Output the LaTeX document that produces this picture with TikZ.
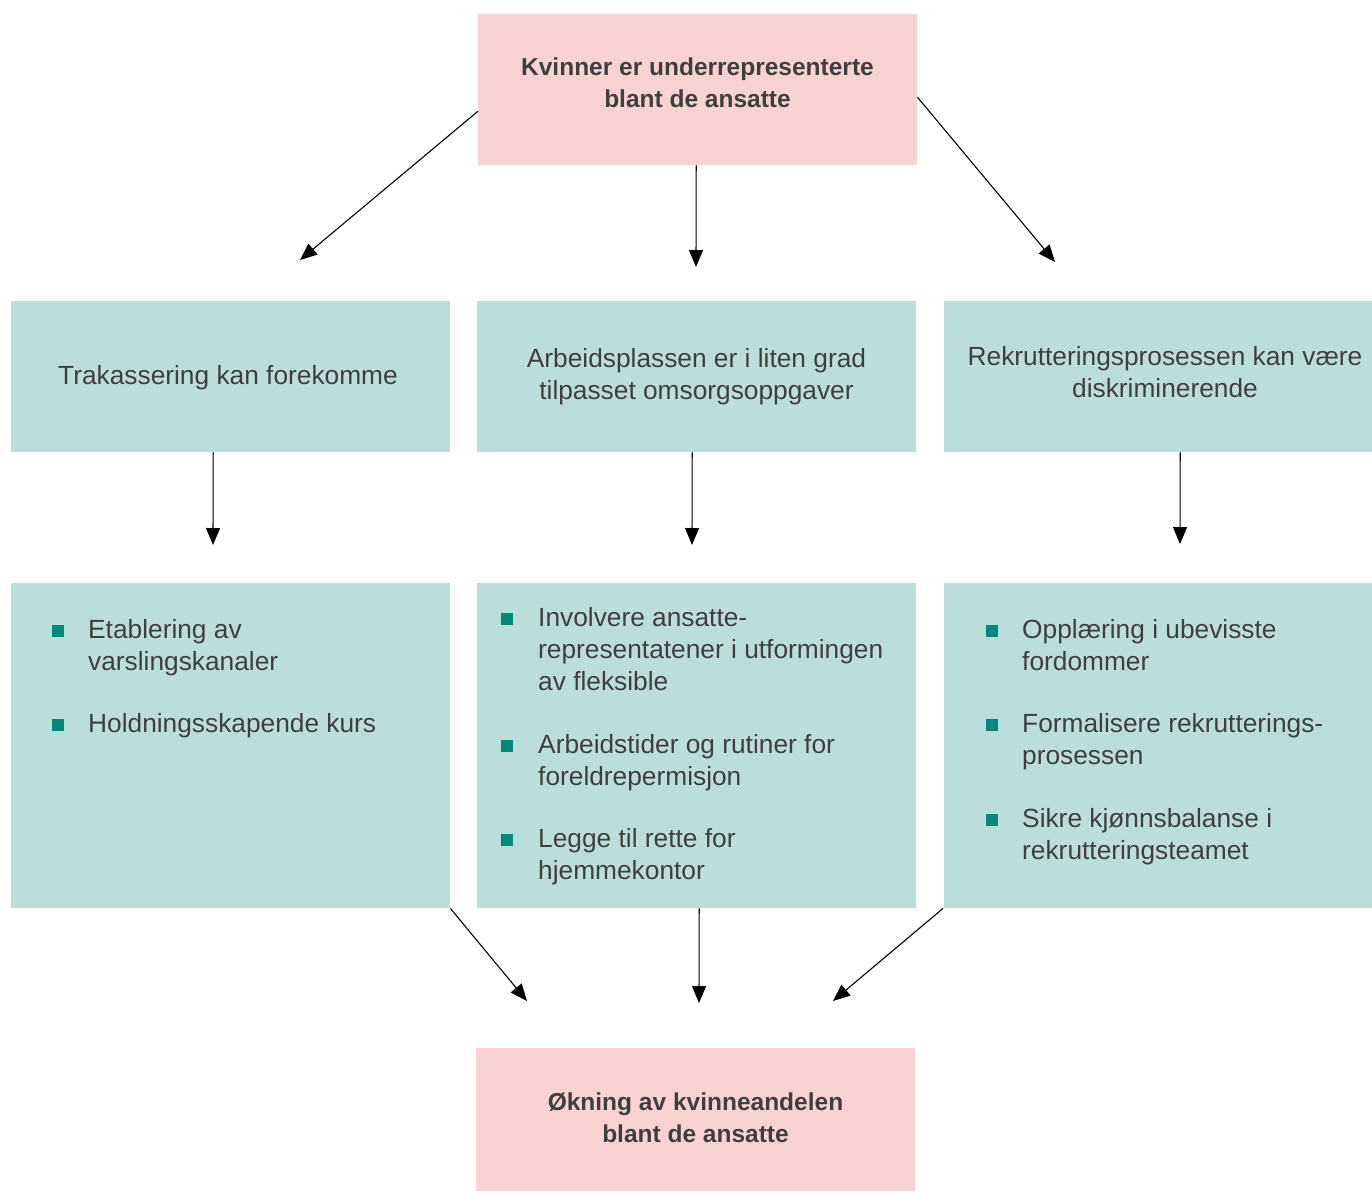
\documentclass[tikz,border=0pt]{standalone}
\usepackage{fontspec}
\setmainfont{Liberation Sans}
\usetikzlibrary{arrows.meta,calc}
\definecolor{pinkbox}{HTML}{F9D3D1}
\definecolor{tealbox}{HTML}{BCDEDB}
\definecolor{bul}{HTML}{00897B}
\definecolor{tgray}{HTML}{3F3F3F}
\newcommand\myfl{\rule{0pt}{24pt}}
\begin{document}
\begin{tikzpicture}[x=1pt,y=-1pt,
  pinkb/.style={fill=pinkbox,draw=none,minimum width=439pt,inner sep=0,anchor=north west},
  tealb/.style={fill=tealbox,draw=none,minimum width=439pt,inner sep=0,anchor=north west},
  ttxt/.style={font=\fontsize{26.3}{32}\selectfont,text=tgray,inner sep=0,align=left,anchor=north west},
  ctxt/.style={font=\fontsize{26.3}{32}\selectfont,text=tgray,inner sep=0,align=center,anchor=north},
  btxt/.style={font=\bfseries\fontsize{24.5}{32}\selectfont,text=tgray,inner sep=0,align=center,anchor=north},
  bsq/.style={fill=bul,draw=none,minimum size=12pt,inner sep=0},
  arr/.style={draw=black,line width=1.1pt,-{Triangle[length=17pt,width=14pt]}}]
\useasboundingbox (0,0) rectangle (1372,1192);
% boxes
\node[pinkb,minimum height=151pt] (top) at (478,14) {};
\node[tealb,minimum height=151pt] (b1) at (11,301) {};
\node[tealb,minimum height=151pt] (b2) at (477,301) {};
\node[tealb,minimum height=151pt] (b3) at (944,301) {};
\node[tealb,minimum height=325pt] (c1) at (11,583) {};
\node[tealb,minimum height=325pt] (c2) at (477,583) {};
\node[tealb,minimum height=325pt] (c3) at (944,583) {};
\node[pinkb,minimum height=143pt] (bot) at (476,1048) {};
% box titles
\node[btxt] (topT) at (697.5,75-24) {\myfl Kvinner er underrepresenterte\\blant de ansatte};
\node[btxt] (botT) at (695.5,1110-24) {\myfl Økning av kvinneandelen\\blant de ansatte};
\node[ctxt] (b1T) at (228,384-24) {\myfl Trakassering kan forekomme};
\node[ctxt] (b2T) at (696.5,367-24) {\myfl Arbeidsplassen er i liten grad\\tilpasset omsorgsoppgaver};
\node[ctxt] (b3T) at (1165,365-24) {\myfl Rekrutteringsprosessen kan være\\diskriminerende};
% bullets left
\node[bsq] (l1s) at (58,631) {};
\node[ttxt] (l1) at (88,638-24) {\myfl Etablering av\\varslingskanaler};
\node[bsq] (l2s) at (58,725) {};
\node[ttxt] (l2) at (88,732-24) {\myfl Holdningsskapende kurs};
% bullets middle
\node[bsq] (m1s) at (507,619) {};
\node[ttxt] (m1) at (538,626-24) {\myfl Involvere ansatte-\\representatener i utformingen\\av fleksible};
\node[bsq] (m2s) at (507,746) {};
\node[ttxt] (m2) at (538,753-24) {\myfl Arbeidstider og rutiner for\\foreldrepermisjon};
\node[bsq] (m3s) at (507,840) {};
\node[ttxt] (m3) at (538,847-24) {\myfl Legge til rette for\\hjemmekontor};
% bullets right
\node[bsq] (r1s) at (992,631) {};
\node[ttxt] (r1) at (1022,638-24) {\myfl Opplæring i ubevisste\\fordommer};
\node[bsq] (r2s) at (992,725) {};
\node[ttxt] (r2) at (1022,732-24) {\myfl Formalisere rekrutterings-\\prosessen};
\node[bsq] (r3s) at (992,820) {};
\node[ttxt] (r3) at (1022,827-24) {\myfl Sikre kjønnsbalanse i\\rekrutteringsteamet};
% arrow end points
\coordinate (e1) at (300,260);
\coordinate (e2) at (696,267);
\coordinate (e3) at (1055,262);
\coordinate (f1) at (213,545);
\coordinate (f2) at (692,545);
\coordinate (f3) at (1180,544);
\coordinate (g1) at (527,1001);
\coordinate (g2) at (699,1003);
\coordinate (g3) at (833,1001);
% arrows
\draw[arr] ([yshift=-21.5pt]top.west) -- (e1);
\draw[arr] ([xshift=-1.5pt]top.south) -- (e2);
\draw[arr] ([yshift=-7.5pt]top.east) -- (e3);
\draw[arr] ([xshift=-17.5pt]b1.south) -- (f1);
\draw[arr] ([xshift=-4.5pt]b2.south) -- (f2);
\draw[arr] ([xshift=16.5pt]b3.south) -- (f3);
\draw[arr] (c1.south east) -- (g1);
\draw[arr] ([xshift=2.5pt]c2.south) -- (g2);
\draw[arr] ([xshift=-1pt]c3.south west) -- (g3);
\end{tikzpicture}
\end{document}
